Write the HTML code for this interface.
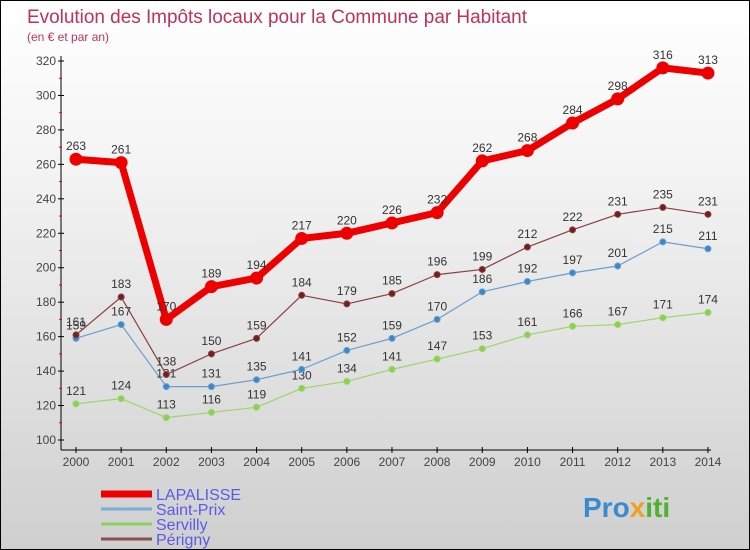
<!DOCTYPE html>
<html><head><meta charset="utf-8"><style>
body{margin:0}
#c{width:748px;height:548px;border:1px solid #000;background:linear-gradient(#fff,#f4f4f4 30%,#cfcfcf);position:relative;overflow:hidden;font-family:"Liberation Sans","DejaVu Sans",sans-serif}
svg{position:absolute;left:0;top:0}
</style></head><body>
<div id="c">
<svg id="s" width="748" height="548">
<text x="26" y="22" font-size="19" fill="#c0305a" textLength="500">Evolution des Impôts locaux pour la Commune par Habitant</text>
<text x="26" y="40" font-size="12" fill="#c0305a">(en € et par an)</text>
<text x="582" y="516" font-size="28" font-weight="bold" fill="#3a8ad0">Pro<tspan fill="#f0a020">x</tspan><tspan fill="#50b030">iti</tspan></text>
</svg>
</div>
<script>
const years=[2000,2001,2002,2003,2004,2005,2006,2007,2008,2009,2010,2011,2012,2013,2014];
const lapalisse=[263,261,170,189,194,217,220,226,232,262,268,284,298,316,313];
const saintPrix=[159,167,131,131,135,141,152,159,170,186,192,197,201,215,211];
const servilly=[121,124,113,116,119,130,134,141,147,153,161,166,167,171,174];
const perigny=[161,183,138,150,159,184,179,185,196,199,212,222,231,235,231];
const yTicks=[100,120,140,160,180,200,220,240,260,280,300,320];
const s=document.getElementById('s');const NS='http://www.w3.org/2000/svg';
const X=i=>75+i*45.14, Y=v=>439-(v-100)*1.7227;
function mk(t,a,p){const e=document.createElementNS(NS,t);for(const k in a)e.setAttribute(k,a[k]);(p||s).appendChild(e);return e;}
let e=mk('line',{x1:60,y1:55,x2:60,y2:449,stroke:'#000'});


e=mk('line',{x1:60,y1:449,x2:710,y2:449,stroke:'#000'});


yTicks.forEach((v,i)=>{
 e=mk('line',{x1:57,x2:63,y1:Y(v),y2:Y(v),stroke:'#000'});
 
 
 if(i<yTicks.length-1){e=mk('line',{x1:58,x2:61,y1:Y(v+10),y2:Y(v+10),stroke:'#e00'});
 
 }
 e=mk('text',{x:55,y:Y(v)+4,'font-size':12,fill:'#444','text-anchor':'end'});e.textContent=v;
 
 
});
years.forEach((y,i)=>{
 e=mk('line',{x1:X(i),x2:X(i),y1:446,y2:452,stroke:'#000'});
 
 
 e=mk('text',{x:X(i),y:465,'font-size':12,fill:'#444','text-anchor':'middle'});e.textContent=y;
 
 
});
function series(d,col,dot,w,r,name){
 const g=mk('g',{});
 
 
 e=mk('polyline',{points:d.map((v,i)=>X(i)+','+Y(v)).join(' '),fill:'none',stroke:col,'stroke-width':w,'stroke-linejoin':'round'},g);
 
 
 d.forEach((v,i)=>{
  e=mk('circle',{cx:X(i),cy:Y(v),r:r,fill:dot,stroke:col,'stroke-width':1},g);
  
  
  e=mk('text',{x:X(i),y:Y(v)-9,'font-size':12,fill:'#333','text-anchor':'middle'},g);e.textContent=v;
  
  
 });
}
series(servilly,'#9ad66a','#8cd050',1.2,3,'servilly');
series(saintPrix,'#6a9ecf','#3a88cc',1.2,3,'saint-prix');
series(perigny,'#8a4040','#702020',1.2,3,'perigny');
series(lapalisse,'#ee0000','#ee0000',7,6,'lapalisse');
const leg=[['LAPALISSE','#ee0000',7],['Saint-Prix','#7aaed8',3],['Servilly','#8cd060',3],['Périgny','#8a5050',3]];
leg.forEach((l,i)=>{
 const y=493+i*15;
 e=mk('line',{x1:100,x2:151,y1:y,y2:y,stroke:l[1],'stroke-width':l[2]});
 
 
 e=mk('text',{x:155,y:y+6,'font-size':16,fill:'#5a5ae8'});e.textContent=l[0];
 
 
});
</script>
</body></html>
